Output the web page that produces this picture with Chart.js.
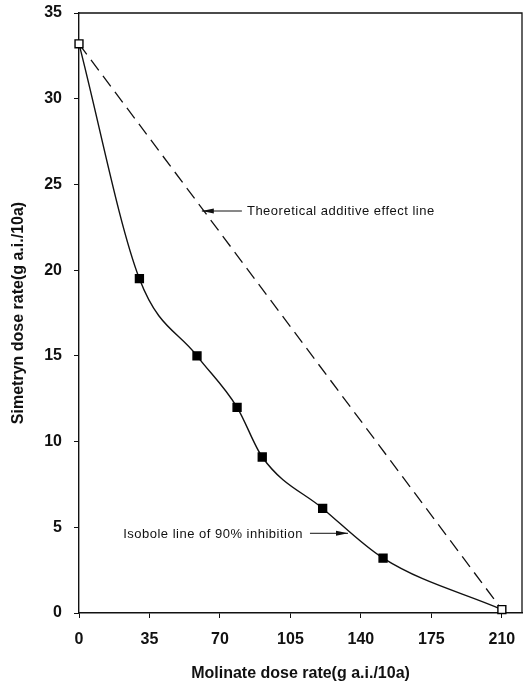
<!DOCTYPE html>
<html>
<head>
<meta charset="utf-8">
<script src="https://cdn.jsdelivr.net/npm/chart.js@4"></script>
<style>
    body { margin: 0; background: #fff; overflow: hidden; }
    #box { width: 524px; height: 685px; }
</style>
</head>
<body>
<div id="box"><canvas id="graficoIsobole"></canvas></div>
<script>
// valores
const molinate = [0, 30, 58.6, 78.5, 91, 121, 151, 210];
const simetryn = [33.2, 19.5, 15.0, 12.0, 9.1, 6.1, 3.2, 0.2];
const aditivoX = [0, 210];
const aditivoY = [33.2, 0.2];
const ticksX = [0, 35, 70, 105, 140, 175, 210];
const ticksY = [0, 5, 10, 15, 20, 25, 30, 35];

const notas = [
    { texto: 'Theoretical additive effect line', tx: 83.4, ty: 23.45, lado: 'left', de: [80.9, 23.45], ate: [61, 23.45] },
    { texto: 'Isobole line of 90% inhibition', tx: 111.2, ty: 4.6, lado: 'right', de: [114.7, 4.65], ate: [133.6, 4.65] }
];

const fonteEixo = "'Liberation Sans', Arial, sans-serif";

const pontosCurva = molinate.map((x, i) => ({ x: x, y: simetryn[i] }));
const pontosAditivo = aditivoX.map((x, i) => ({ x: x, y: aditivoY[i] }));

const corPonto = molinate.map((x, i) => (i === 0 || i === molinate.length - 1) ? '#ffffff' : '#000000');

function semPadding(escala) {
    escala.paddingTop = 0;
    escala.paddingBottom = 0;
    escala.paddingLeft = 0;
    escala.paddingRight = 0;
}

const pluginMoldura = {
    id: 'moldura',
    afterDraw(chart) {
        const ctx = chart.ctx;
        const area = chart.chartArea;
        const sx = chart.scales.x;
        const sy = chart.scales.y;
        ctx.save();
        ctx.strokeStyle = '#111';
        ctx.lineWidth = 1.3;
        ctx.beginPath();
        ctx.moveTo(area.left, area.top);
        ctx.lineTo(area.right, area.top);
        ctx.lineTo(area.right, area.bottom);
        ctx.stroke();

        ctx.font = "13px " + fonteEixo;
        ctx.letterSpacing = '0.5px';
        ctx.fillStyle = '#111';
        ctx.textBaseline = 'middle';
        notas.forEach(n => {
            ctx.textAlign = n.lado;
            ctx.fillText(n.texto, sx.getPixelForValue(n.tx), sy.getPixelForValue(n.ty));
            const x1 = sx.getPixelForValue(n.de[0]);
            const y1 = sy.getPixelForValue(n.de[1]);
            const x2 = sx.getPixelForValue(n.ate[0]);
            const y2 = sy.getPixelForValue(n.ate[1]);
            ctx.lineWidth = 1;
            ctx.beginPath();
            ctx.moveTo(x1, y1);
            ctx.lineTo(x2, y2);
            ctx.stroke();
            const dir = Math.sign(x2 - x1);
            ctx.beginPath();
            ctx.moveTo(x2, y2);
            ctx.lineTo(x2 - dir * 12, y2 - 2.5);
            ctx.lineTo(x2 - dir * 12, y2 + 2.5);
            ctx.closePath();
            ctx.fill();
        });
        ctx.restore();
    }
};

document.addEventListener("DOMContentLoaded", () => {
    const ctxGrafico = document.getElementById('graficoIsobole');

    new Chart(ctxGrafico, {
        type: 'scatter',
        data: {
            datasets: [
                {
                    label: 'Isobole',
                    data: pontosCurva,
                    showLine: true,
                    clip: false,
                    borderColor: '#111',
                    borderWidth: 1.4,
                    cubicInterpolationMode: 'monotone',
                    pointStyle: 'rect',
                    pointRadius: 5.6,
                    pointBorderWidth: 1.4,
                    pointBorderColor: '#000',
                    pointBackgroundColor: corPonto,
                    order: 1
                },
                {
                    label: 'Aditivo',
                    data: pontosAditivo,
                    showLine: true,
                    clip: false,
                    borderColor: '#111',
                    borderWidth: 1.3,
                    borderDash: [13, 7],
                    pointRadius: 0,
                    order: 2
                }
            ]
        },
        options: {
            responsive: true,
            maintainAspectRatio: false,
            animation: false,
            layout: {
                autoPadding: false,
                padding: { top: 13, right: 2, left: 0, bottom: 0 }
            },
            plugins: {
                legend: { display: false },
                tooltip: { enabled: false }
            },
            scales: {
                x: {
                    type: 'linear',
                    min: 0,
                    max: 220,
                    afterBuildTicks: (escala) => {
                        escala.ticks = ticksX.map(v => ({ value: v }));
                    },
                    afterFit: (escala) => { escala.height = 72; semPadding(escala); },
                    grid: {
                        drawOnChartArea: false,
                        drawTicks: true,
                        tickLength: 5,
                        color: '#111'
                    },
                    border: { display: true, color: '#111', width: 1.4 },
                    ticks: {
                        color: '#111',
                        padding: 12,
                        maxRotation: 0,
                        font: { family: fonteEixo, size: 16, weight: 'bold' }
                    },
                    title: {
                        display: true,
                        text: 'Molinate dose rate(g a.i./10a)',
                        color: '#111',
                        padding: { top: 0, bottom: 2 },
                        font: { family: fonteEixo, size: 16, weight: 'bold' }
                    }
                },
                y: {
                    type: 'linear',
                    min: 0,
                    max: 35,
                    afterBuildTicks: (escala) => {
                        escala.ticks = ticksY.map(v => ({ value: v }));
                    },
                    afterFit: (escala) => { escala.width = 79; semPadding(escala); },
                    grid: {
                        drawOnChartArea: false,
                        drawTicks: true,
                        tickLength: 5,
                        color: '#111'
                    },
                    border: { display: true, color: '#111', width: 1.4 },
                    ticks: {
                        color: '#111',
                        padding: 12,
                        font: { family: fonteEixo, size: 16, weight: 'bold' }
                    },
                    title: {
                        display: true,
                        text: 'Simetryn dose rate(g a.i./10a)',
                        color: '#111',
                        padding: { top: 9, bottom: 0 },
                        font: { family: fonteEixo, size: 16, weight: 'bold' }
                    }
                }
            }
        },
        plugins: [pluginMoldura]
    });
});
</script>
</body>
</html>
